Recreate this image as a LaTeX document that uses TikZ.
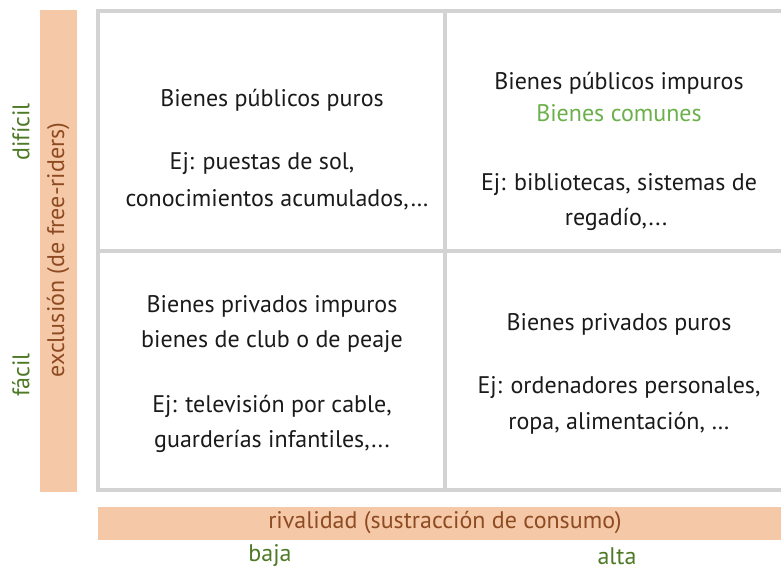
\documentclass[tikz,border=0pt]{standalone}
\usepackage{fontspec}
\setmainfont{PT Sans}
\definecolor{gridgray}{HTML}{D3D3D3}
\definecolor{barfill}{HTML}{F5C9A8}
\definecolor{labgreen}{HTML}{4E7A27}
\definecolor{barbrown}{HTML}{8E4B22}
\definecolor{lightgreen}{HTML}{6BB04A}
\definecolor{txt}{HTML}{1A1A1A}
\tikzset{
  gridline/.style={draw=gridgray, line width=4pt},
  bar/.style={fill=barfill, draw=none},
  cell/.style={anchor=base, inner sep=0pt, text=txt, font=\fontsize{24}{28}\selectfont},
  axislab/.style={inner sep=0pt, text=labgreen, font=\fontsize{24}{28}\selectfont},
  bartext/.style={inner sep=0pt, text=barbrown, font=\fontsize{24}{28}\selectfont},
}
\begin{document}
\begin{tikzpicture}[x=1pt,y=-1pt]
\useasboundingbox (0,0) rectangle (781,572);
% orange bars
\fill[bar] (40,10) rectangle (77,492);
\fill[bar] (98,507) rectangle (800,540);
% grid
\coordinate (g1) at (98,11.5);
\coordinate (g2) at (800,490);
\draw[gridline] (800,11.5) -- (g1) -- (98,490) -- (800,490);
\draw[gridline] (445,11.5) -- (445,490);
\draw[gridline] (98,251) -- (800,251);
% top-left
\node[cell] (tl1) at (272,107) {Bienes públicos puros};
\node[cell] (tl2) at (262,170) {Ej: puestas de sol,};
\node[cell] (tl3) at (277,207) {conocimientos acumulados,…};
% top-right
\node[cell] (tr1) at (619,90) {Bienes públicos impuros};
\node[cell, text=lightgreen] (tr2) at (619,122) {Bienes comunes};
\node[cell] (tr3) at (619,190) {Ej: bibliotecas, sistemas de};
\node[cell] (tr4) at (616,225) {regadío,...};
% bottom-left
\node[cell] (bl1) at (272,312) {Bienes privados impuros};
\node[cell] (bl2) at (272,347) {bienes de club o de peaje};
\node[cell] (bl3) at (272,412) {Ej: televisión por cable,};
\node[cell] (bl4) at (272,447) {guarderías infantiles,...};
% bottom-right
\node[cell] (br1) at (619,330) {Bienes privados puros};
\node[cell] (br2) at (619,393) {Ej: ordenadores personales,};
\node[cell] (br3) at (619,429) {ropa, alimentación, …};
% axes labels
\node[bartext] (xlab) at (445,522) {rivalidad (sustracción de consumo)};
\node[axislab] (baja) at (270,556) {baja};
\node[axislab] (alta) at (617,556) {alta};
\node[bartext, rotate=90] (ylab) at (58,250) {exclusión (de free-riders)};
\node[axislab, rotate=90] (dif) at (21,132) {difícil};
\node[axislab, rotate=90] (fac) at (21,375) {fácil};
\end{tikzpicture}
\end{document}
